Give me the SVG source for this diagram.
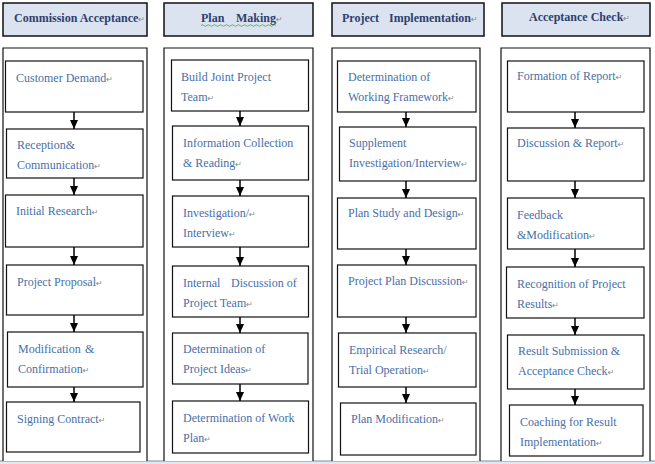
<svg xmlns="http://www.w3.org/2000/svg" width="655" height="464" viewBox="0 0 655 464">
<defs>
<style>
.hdr{fill:#dbe3f1;stroke:#111;stroke-width:1.5}
.pnl{fill:#fff;stroke:#111;stroke-width:1.2}
.box{fill:#fff;stroke:#111;stroke-width:1.2}
.ht{font-family:"Liberation Serif","Times New Roman",serif;font-size:12px;font-weight:bold;fill:#2f3f6e}
.t{font-family:"Liberation Serif","Times New Roman",serif;font-size:12px;fill:#4770a8}
.rm{font-family:"DejaVu Sans",sans-serif;font-size:8px;fill:#888;font-weight:normal}
.con line{stroke:#000;stroke-width:1.5}
</style>
<marker id="ah2" viewBox="0 0 9 8" refX="9" refY="4" markerWidth="9" markerHeight="8" markerUnits="userSpaceOnUse" orient="auto">
<path d="M0,0 L9,4 L0,8 z" fill="#000"/>
</marker>
</defs>
<rect x="0" y="0" width="655" height="464" fill="#fff"/>
<rect x="0" y="461" width="655" height="3" fill="#e4e8ec"/>
<line x1="0" y1="461" x2="655" y2="461" stroke="#7f8f9c" stroke-width="1"/>

<!-- headers -->
<g id="h1"><rect class="hdr" x="3" y="3" width="144" height="33"/><text class="ht" x="14" y="22">Commission Acceptance<tspan class="rm">↵</tspan></text></g>
<g id="h2"><rect class="hdr" x="164" y="3" width="149" height="33"/><text class="ht" x="201" y="22">Plan<tspan x="236">Making</tspan><tspan class="rm">↵</tspan></text>
<path d="M201,25.5 q1.5,-1.5 3,0 t3,0 t3,0 t3,0 t3,0 t3,0 t3,0 t3,0 t3,0 t3,0 t3,0 t3,0 t3,0 t3,0 t3,0 t3,0 t3,0 t3,0 t3,0 t3,0 t3,0 t3,0 t3,0 t3,0 t3,0" fill="none" stroke="#3a9a3a" stroke-width="0.7"/></g>
<g id="h3"><rect class="hdr" x="332" y="3" width="152" height="33"/><text class="ht" x="342" y="22">Project<tspan x="389">Implementation</tspan><tspan class="rm">↵</tspan></text></g>
<g id="h4"><rect class="hdr" x="502" y="3" width="148" height="33"/><text class="ht" x="529" y="21">Acceptance Check<tspan class="rm">↵</tspan></text></g>

<!-- panels -->
<g id="panels">
<path class="pnl" d="M3,461 V48 H147 V461"/>
<path class="pnl" d="M164,461 V48 H313 V461"/>
<path class="pnl" d="M332,461 V48 H480 V461"/>
<path class="pnl" d="M501,461 V48 H650 V461"/>
</g>

<!-- column 1 -->
<g id="c1n1"><rect class="box" x="5.5" y="61" width="137.5" height="51"/><text class="t" x="16" y="82">Customer Demand<tspan class="rm">↵</tspan></text></g>
<g id="c1n2"><rect class="box" x="6.5" y="129" width="136.5" height="49"/><text class="t" x="17" y="149">Reception&amp;</text><text class="t" x="17" y="169">Communication<tspan class="rm">↵</tspan></text></g>
<g id="c1n3"><rect class="box" x="5.5" y="195" width="137.5" height="52"/><text class="t" x="16" y="215">Initial Research<tspan class="rm">↵</tspan></text></g>
<g id="c1n4"><rect class="box" x="6.5" y="265" width="136.5" height="50"/><text class="t" x="17" y="286">Project Proposal<tspan class="rm">↵</tspan></text></g>
<g id="c1n5"><rect class="box" x="7.5" y="332" width="135.5" height="55"/><text class="t" x="18" y="353">Modification<tspan x="85">&amp;</tspan></text><text class="t" x="18" y="373">Confirmation<tspan class="rm">↵</tspan></text></g>
<g id="c1n6"><rect class="box" x="6.5" y="402" width="133.5" height="50"/><text class="t" x="17" y="423">Signing Contract<tspan class="rm">↵</tspan></text></g>

<!-- column 2 -->
<g id="c2n1"><rect class="box" x="171.5" y="60" width="137" height="51"/><text class="t" x="181" y="81">Build Joint Project</text><text class="t" x="181" y="101">Team<tspan class="rm">↵</tspan></text></g>
<g id="c2n2"><rect class="box" x="172.5" y="126" width="136" height="54"/><text class="t" x="183" y="147">Information Collection</text><text class="t" x="183" y="167">&amp; Reading<tspan class="rm">↵</tspan></text></g>
<g id="c2n3"><rect class="box" x="172.5" y="196" width="136" height="51"/><text class="t" x="183" y="217">Investigation/<tspan class="rm">↵</tspan></text><text class="t" x="183" y="237">Interview<tspan class="rm">↵</tspan></text></g>
<g id="c2n4"><rect class="box" x="172.5" y="266" width="136" height="51"/><text class="t" x="183" y="287">Internal<tspan x="231">Discussion of</tspan></text><text class="t" x="183" y="307">Project Team<tspan class="rm">↵</tspan></text></g>
<g id="c2n5"><rect class="box" x="172.5" y="333" width="135.5" height="51"/><text class="t" x="183" y="353">Determination of</text><text class="t" x="183" y="373">Project Ideas<tspan class="rm">↵</tspan></text></g>
<g id="c2n6"><rect class="box" x="172.5" y="401" width="136" height="52"/><text class="t" x="183" y="422">Determination of Work</text><text class="t" x="183" y="442">Plan<tspan class="rm">↵</tspan></text></g>

<!-- column 3 -->
<g id="c3n1"><rect class="box" x="337.5" y="61" width="138.5" height="51"/><text class="t" x="348" y="81">Determination of</text><text class="t" x="348" y="101">Working Framework<tspan class="rm">↵</tspan></text></g>
<g id="c3n2"><rect class="box" x="339.5" y="127" width="136.5" height="54"/><text class="t" x="349" y="147">Supplement</text><text class="t" x="349" y="167">Investigation/Interview<tspan class="rm">↵</tspan></text></g>
<g id="c3n3"><rect class="box" x="337.5" y="198" width="138.5" height="51"/><text class="t" x="348" y="217">Plan Study and Design<tspan class="rm">↵</tspan></text></g>
<g id="c3n4"><rect class="box" x="337.5" y="265" width="138.5" height="52"/><text class="t" x="348" y="285">Project Plan Discussion<tspan class="rm">↵</tspan></text></g>
<g id="c3n5"><rect class="box" x="338.5" y="333" width="137.5" height="54"/><text class="t" x="349" y="354">Empirical Research/</text><text class="t" x="349" y="374">Trial Operation<tspan class="rm">↵</tspan></text></g>
<g id="c3n6"><rect class="box" x="340.5" y="403" width="135.5" height="52"/><text class="t" x="351" y="423">Plan Modification<tspan class="rm">↵</tspan></text></g>

<!-- column 4 -->
<g id="c4n1"><rect class="box" x="507.5" y="61" width="136.5" height="51"/><text class="t" x="517" y="80">Formation of Report<tspan class="rm">↵</tspan></text></g>
<g id="c4n2"><rect class="box" x="507.5" y="128" width="136.5" height="53"/><text class="t" x="517" y="147">Discussion &amp; Report<tspan class="rm">↵</tspan></text></g>
<g id="c4n3"><rect class="box" x="507.5" y="198" width="136.5" height="51"/><text class="t" x="517" y="219">Feedback</text><text class="t" x="517" y="239">&amp;Modification<tspan class="rm">↵</tspan></text></g>
<g id="c4n4"><rect class="box" x="506.5" y="267" width="137.5" height="51"/><text class="t" x="517" y="288">Recognition of Project</text><text class="t" x="517" y="308">Results<tspan class="rm">↵</tspan></text></g>
<g id="c4n5"><rect class="box" x="507.5" y="335" width="136.5" height="54"/><text class="t" x="518" y="355">Result Submission &amp;</text><text class="t" x="518" y="375">Acceptance Check<tspan class="rm">↵</tspan></text></g>
<g id="c4n6"><rect class="box" x="509.5" y="405" width="133.5" height="51"/><text class="t" x="520" y="426">Coaching for Result</text><text class="t" x="520" y="446">Implementation<tspan class="rm">↵</tspan></text></g>

<!-- connectors -->
<g id="connectors" class="con">
<line x1="74" y1="112" x2="74" y2="129" marker-end="url(#ah2)"/>
<line x1="74" y1="178" x2="74" y2="195" marker-end="url(#ah2)"/>
<line x1="74" y1="247" x2="74" y2="265" marker-end="url(#ah2)"/>
<line x1="74" y1="315" x2="74" y2="332" marker-end="url(#ah2)"/>
<line x1="74" y1="387" x2="74" y2="402" marker-end="url(#ah2)"/>

<line x1="240" y1="111" x2="240" y2="126" marker-end="url(#ah2)"/>
<line x1="240" y1="180" x2="240" y2="196" marker-end="url(#ah2)"/>
<line x1="240" y1="247" x2="240" y2="266" marker-end="url(#ah2)"/>
<line x1="240" y1="317" x2="240" y2="333" marker-end="url(#ah2)"/>
<line x1="240" y1="384" x2="240" y2="401" marker-end="url(#ah2)"/>

<line x1="406" y1="112" x2="406" y2="127" marker-end="url(#ah2)"/>
<line x1="406" y1="181" x2="406" y2="198" marker-end="url(#ah2)"/>
<line x1="406" y1="249" x2="406" y2="265" marker-end="url(#ah2)"/>
<line x1="406" y1="317" x2="406" y2="333" marker-end="url(#ah2)"/>
<line x1="406" y1="387" x2="406" y2="403" marker-end="url(#ah2)"/>

<line x1="575" y1="112" x2="575" y2="128" marker-end="url(#ah2)"/>
<line x1="575" y1="181" x2="575" y2="198" marker-end="url(#ah2)"/>
<line x1="575" y1="249" x2="575" y2="267" marker-end="url(#ah2)"/>
<line x1="575" y1="318" x2="575" y2="335" marker-end="url(#ah2)"/>
<line x1="575" y1="389" x2="575" y2="405" marker-end="url(#ah2)"/>
</g>
</svg>
